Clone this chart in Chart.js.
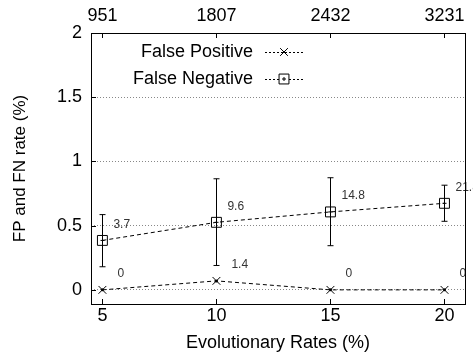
<!DOCTYPE html>
<html>
<head>
<meta charset="utf-8">
<script src="https://cdn.jsdelivr.net/npm/chart.js@4/dist/chart.umd.min.js"></script>
<style>
  html, body { margin: 0; padding: 0; background: #fff; }
  #wrap { width: 473px; height: 362px; }
</style>
</head>
<body>
<div id="wrap"><canvas id="chart"></canvas></div>
<script>
// evolutionary rates (bottom axis) and matching counts (top axis)
const rates = [5, 10, 15, 20];
const topLabels = ['951', '1807', '2432', '3231'];
const yTicks = [0, 0.5, 1, 1.5, 2];

// false positive rate
const fpValues = [0, 0.07, 0, 0];
const fpLabels = ['0', '1.4', '0', '0'];

// false negative rate with error bars
const fnValues = [0.385, 0.526, 0.607, 0.674];
const fnLow = [0.18, 0.19, 0.344, 0.534];
const fnHigh = [0.586, 0.865, 0.873, 0.815];
const fnLabels = ['3.7', '9.6', '14.8', '21.8'];

const FONT = '"Liberation Sans", Arial, sans-serif';

const toPoints = (vals) => rates.map((x, i) => ({ x: x, y: vals[i] }));

// error bars, value labels, box, inner ticks and legend
const extras = {
  id: 'extras',
  afterDatasetsDraw(chart) {
    const ctx = chart.ctx;
    const xs = chart.scales.x, ys = chart.scales.y;
    const a = chart.chartArea;
    ctx.save();

    // error bars
    ctx.strokeStyle = '#000';
    ctx.lineWidth = 1;
    rates.forEach((r, i) => {
      const px = Math.round(xs.getPixelForValue(r)) + 0.5;
      const lo = ys.getPixelForValue(fnLow[i]);
      const hi = ys.getPixelForValue(fnHigh[i]);
      const mid = ys.getPixelForValue(fnValues[i]);
      ctx.beginPath();
      ctx.moveTo(px, lo); ctx.lineTo(px, hi);
      ctx.moveTo(px - 3, lo); ctx.lineTo(px + 3, lo);
      ctx.moveTo(px - 3, hi); ctx.lineTo(px + 3, hi);
      ctx.moveTo(px - 2, mid); ctx.lineTo(px + 2, mid);
      ctx.stroke();
    });

    // centre dots on the FP crosses
    ctx.fillStyle = '#000';
    rates.forEach((r, i) => {
      ctx.beginPath();
      ctx.arc(xs.getPixelForValue(r), ys.getPixelForValue(fpValues[i]), 1.5, 0, Math.PI * 2);
      ctx.fill();
    });

    // value labels
    ctx.fillStyle = '#333';
    ctx.font = '12px ' + FONT;
    ctx.textAlign = 'left';
    ctx.textBaseline = 'middle';
    rates.forEach((r, i) => {
      const px = xs.getPixelForValue(r);
      ctx.fillText(fnLabels[i], px + 11, ys.getPixelForValue(fnValues[i]) - 16);
      ctx.fillText(fpLabels[i], px + 15, ys.getPixelForValue(fpValues[i]) - 16);
    });

    // frame
    ctx.strokeStyle = '#000';
    ctx.lineWidth = 1;
    ctx.setLineDash([]);
    ctx.strokeRect(Math.round(a.left) + 0.5, Math.round(a.top) + 0.5,
      Math.round(a.right - a.left), Math.round(a.bottom - a.top));

    // inner ticks
    ctx.beginPath();
    rates.forEach(r => {
      const px = Math.round(xs.getPixelForValue(r)) + 0.5;
      ctx.moveTo(px, a.top); ctx.lineTo(px, a.top + 5);
      ctx.moveTo(px, a.bottom); ctx.lineTo(px, a.bottom - 5);
    });
    yTicks.forEach(v => {
      const py = Math.round(ys.getPixelForValue(v)) + 0.5;
      ctx.moveTo(a.left, py); ctx.lineTo(a.left + 5, py);
    });
    ctx.stroke();

    // legend
    const items = [
      { text: 'False Positive', style: 'crossRot', y: 52 },
      { text: 'False Negative', style: 'rect', y: 79 }
    ];
    ctx.font = '18px ' + FONT;
    ctx.textAlign = 'right';
    items.forEach(it => {
      ctx.fillStyle = '#000';
      ctx.fillText(it.text, 253, it.y);
      ctx.beginPath();
      ctx.setLineDash([2, 2]);
      ctx.moveTo(265, it.y + 0.5); ctx.lineTo(303, it.y + 0.5);
      ctx.stroke();
      ctx.setLineDash([]);
      ctx.fillStyle = '#fff';
      Chart.helpers.drawPoint(ctx, { pointStyle: it.style, radius: it.style === 'rect' ? 7 : 5.5, borderWidth: 1 }, 284, it.y);
      if (it.style === 'rect') {
        ctx.fillStyle = '#000';
        ctx.fillRect(282, it.y - 0.5, 4, 1);
        ctx.fillRect(283.5, it.y - 2, 1, 4);
      }
    });

    ctx.restore();
  }
};

new Chart(document.getElementById('chart'), {
  type: 'line',
  data: {
    datasets: [
      {
        label: 'False Positive',
        data: toPoints(fpValues),
        borderColor: '#000',
        backgroundColor: 'rgba(0,0,0,0)',
        borderWidth: 1,
        borderDash: [4, 3],
        pointStyle: 'crossRot',
        pointRadius: 5.5,
        pointBorderColor: '#000',
        pointBorderWidth: 1
      },
      {
        label: 'False Negative',
        data: toPoints(fnValues),
        borderColor: '#000',
        backgroundColor: 'rgba(0,0,0,0)',
        borderWidth: 1,
        borderDash: [4, 3],
        pointStyle: 'rect',
        pointRadius: 7,
        pointBackgroundColor: 'rgba(0,0,0,0)',
        pointBorderColor: '#000',
        pointBorderWidth: 1
      }
    ]
  },
  options: {
    responsive: true,
    maintainAspectRatio: false,
    animation: false,
    layout: { padding: { left: 0, right: 5, top: 0, bottom: 0 } },
    plugins: { legend: { display: false }, tooltip: { enabled: false } },
    scales: {
      x: {
        type: 'linear',
        position: 'bottom',
        min: 4.5,
        max: 20.9,
        afterBuildTicks: s => { s.ticks = rates.map(v => ({ value: v })); },
        afterFit: s => { s.height = 58; },
        grid: { display: false, drawTicks: false },
        border: { display: false },
        ticks: { color: '#000', font: { family: FONT, size: 18 }, padding: 1, maxRotation: 0 },
        title: { display: true, text: 'Evolutionary Rates (%)', color: '#000', font: { family: FONT, size: 18 }, padding: { top: 0, bottom: 8 } }
      },
      x2: {
        type: 'linear',
        position: 'top',
        min: 4.5,
        max: 20.9,
        afterBuildTicks: s => { s.ticks = rates.map(v => ({ value: v })); },
        afterFit: s => { s.height = 33; },
        grid: { display: false, drawTicks: false },
        border: { display: false },
        ticks: {
          color: '#000', font: { family: FONT, size: 18 }, padding: 6, maxRotation: 0,
          callback: v => topLabels[rates.indexOf(v)]
        }
      },
      y: {
        min: -0.11,
        max: 2,
        afterBuildTicks: s => { s.ticks = yTicks.map(v => ({ value: v })); },
        afterFit: s => { s.width = 91; },
        grid: {
          drawTicks: false,
          color: c => (c.tick && c.tick.value === 2) ? 'rgba(0,0,0,0)' : '#888',
          lineWidth: 1
        },
        border: { display: false, dash: [1, 2] },
        ticks: { color: '#000', font: { family: FONT, size: 18 }, padding: 9, callback: v => String(v) },
        title: { display: true, text: 'FP and FN rate (%)', color: '#000', font: { family: FONT, size: 17 }, padding: { top: 10, bottom: 0 } }
      }
    }
  },
  plugins: [extras]
});
</script>
</body>
</html>
